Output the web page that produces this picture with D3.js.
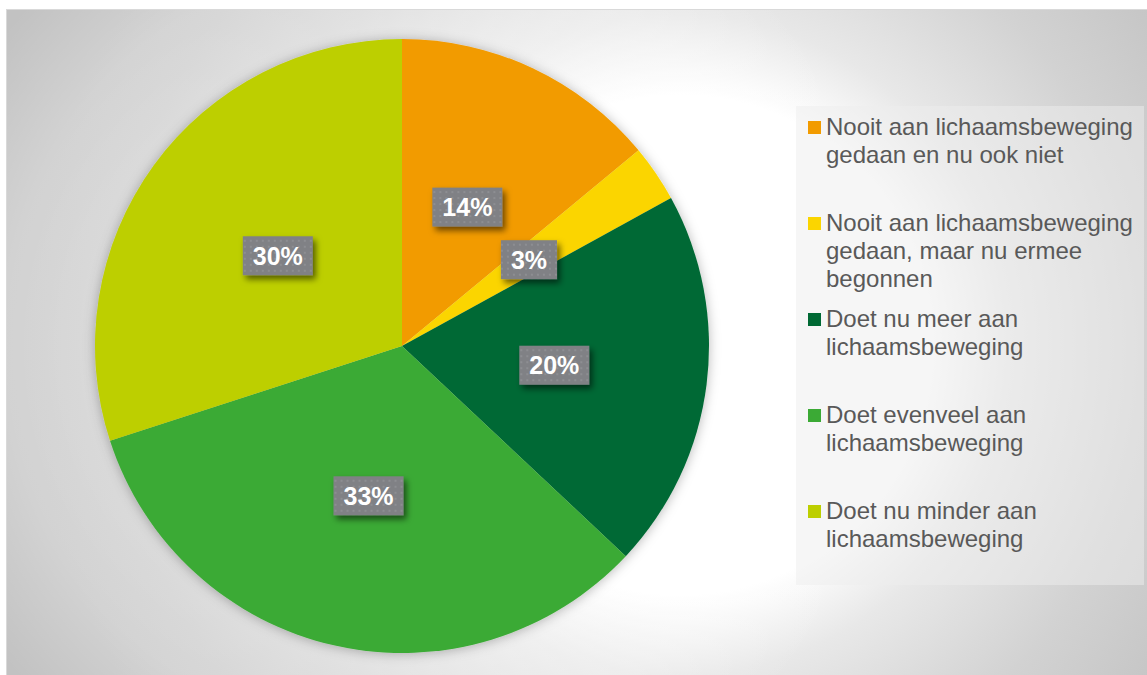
<!DOCTYPE html>
<html>
<head>
<meta charset="utf-8">
<script src="https://cdn.jsdelivr.net/npm/d3@7/dist/d3.min.js"></script>
<style>
  html, body { margin: 0; padding: 0; background: #ffffff; }
  svg { display: block; }
</style>
</head>
<body>
<svg id="chart" width="1147" height="675"></svg>
<script>
// Survey shares (percent) per answer category
const categories = [
  "Nooit aan lichaamsbeweging gedaan en nu ook niet",
  "Nooit aan lichaamsbeweging gedaan, maar nu ermee begonnen",
  "Doet nu meer aan lichaamsbeweging",
  "Doet evenveel aan lichaamsbeweging",
  "Doet nu minder aan lichaamsbeweging"
];
const values = [14, 3, 20, 33, 30];
const sliceColors = ["#f29b00", "#fbd500", "#006934", "#3baa35", "#bdcf00"];
// Legend text, wrapped the way it is shown
const legendLines = [
  ["Nooit aan lichaamsbeweging", "gedaan en nu ook niet"],
  ["Nooit aan lichaamsbeweging", "gedaan, maar nu ermee", "begonnen"],
  ["Doet nu meer aan", "lichaamsbeweging"],
  ["Doet evenveel aan", "lichaamsbeweging"],
  ["Doet nu minder aan", "lichaamsbeweging"]
];

const W = 1147, H = 675;
const cx = 402, cy = 346, radius = 307;
const svg = d3.select("#chart");
const defs = svg.append("defs");

function radial(id, x, y, r, stops) {
  const grad = defs.append("radialGradient")
    .attr("id", id)
    .attr("gradientUnits", "userSpaceOnUse")
    .attr("cx", x).attr("cy", y).attr("r", r);
  stops.forEach(s => grad.append("stop")
    .attr("offset", s[0] / r)
    .attr("stop-color", s[1])
    .attr("stop-opacity", s[2] === undefined ? 1 : s[2]));
}

// Chart-area background: light centre to the right of the pie, grey towards the corners
radial("bgGrad", 680, 345, 650, [
  [0, "#ffffff"], [250, "#ffffff"], [330, "#e8e8e8"],
  [466, "#d2d2d2"], [566, "#c7c7c7"], [650, "#c2c2c2"]
]);
// Light halo spreading out from the pie
radial("haloGrad", cx, cy, radius + 200, [
  [0, "#ffffff", 0.35], [radius, "#ffffff", 0.35],
  [radius + 90, "#ffffff", 0.27], [radius + 200, "#ffffff", 0]
]);

// Narrow shadow along the pie edge
const pieShadow = defs.append("filter").attr("id", "pieShadow")
  .attr("x", "-20%").attr("y", "-20%").attr("width", "140%").attr("height", "140%");
pieShadow.append("feDropShadow")
  .attr("dx", 0).attr("dy", 1).attr("stdDeviation", 6)
  .attr("flood-color", "#000").attr("flood-opacity", 0.28);

// Shadow beneath the value labels
const lblShadow = defs.append("filter").attr("id", "lblShadow")
  .attr("x", "-30%").attr("y", "-30%").attr("width", "170%").attr("height", "180%");
lblShadow.append("feDropShadow")
  .attr("dx", 3).attr("dy", 4).attr("stdDeviation", 3)
  .attr("flood-color", "#000").attr("flood-opacity", 0.55);

// Dotted texture for the label boxes
const pat = defs.append("pattern").attr("id", "dots")
  .attr("patternUnits", "userSpaceOnUse").attr("width", 6).attr("height", 6);
pat.append("rect").attr("width", 6).attr("height", 6).attr("fill", "#808185");
pat.append("rect").attr("x", 2).attr("y", 2).attr("width", 2).attr("height", 2).attr("fill", "#8d8e92");

// Chart area with thin frame
svg.append("rect")
  .attr("x", 6.5).attr("y", 9.5).attr("width", W).attr("height", H)
  .attr("fill", "url(#bgGrad)")
  .attr("stroke", "#d9d9d9").attr("stroke-width", 1);
svg.append("rect")
  .attr("x", 7).attr("y", 10).attr("width", W).attr("height", H)
  .attr("fill", "url(#haloGrad)");

// Pie
const pie = d3.pie().sort(null).value(d => d)(values);
const arc = d3.arc().innerRadius(0).outerRadius(radius);
const color = d3.scaleOrdinal().domain(d3.range(values.length)).range(sliceColors);

const g = svg.append("g").attr("transform", `translate(${cx},${cy})`);

const slices = g.append("g").attr("filter", "url(#pieShadow)");
slices.selectAll("path")
  .data(pie)
  .join("path")
  .attr("d", arc)
  .attr("fill", (d, i) => color(i));

// Value labels in grey boxes at the slice centroids
const labels = g.append("g").selectAll("g")
  .data(pie)
  .join("g")
  .attr("transform", d => `translate(${arc.centroid(d)})`);

labels.each(function (d) {
  const sel = d3.select(this);
  const txt = sel.append("text")
    .attr("text-anchor", "middle")
    .attr("dy", "0.36em")
    .attr("font-family", "Liberation Sans, Arial, sans-serif")
    .attr("font-weight", "bold")
    .attr("font-size", 25)
    .attr("fill", "#ffffff")
    .text(d3.format("d")(d.data) + "%");
  const bb = txt.node().getBBox();
  const bw = bb.width + 20, bh = 39;
  sel.insert("rect", "text")
    .attr("x", -bw / 2).attr("y", -bh / 2)
    .attr("width", bw).attr("height", bh)
    .attr("fill", "url(#dots)")
    .attr("filter", "url(#lblShadow)");
});

// Legend
const legend = svg.append("g");
legend.append("rect")
  .attr("x", 796).attr("y", 106).attr("width", 348).attr("height", 479)
  .attr("fill", "#eeeeee").attr("opacity", 0.5);

const legendY = d3.scaleLinear().domain([0, 1]).range([121, 217]);
const items = legend.selectAll("g.item")
  .data(categories)
  .join("g")
  .attr("class", "item")
  .attr("transform", (d, i) => `translate(808,${legendY(i)})`);

items.append("rect")
  .attr("width", 13).attr("height", 13)
  .attr("fill", (d, i) => color(i));

items.append("text")
  .attr("font-family", "Liberation Sans, Arial, sans-serif")
  .attr("font-size", 24)
  .attr("fill", "#595959")
  .each(function (d, i) {
    d3.select(this).selectAll("tspan")
      .data(legendLines[i])
      .join("tspan")
      .attr("x", 18)
      .attr("y", (l, j) => 14 + j * 28)
      .text(l => l);
  });
</script>
</body>
</html>
